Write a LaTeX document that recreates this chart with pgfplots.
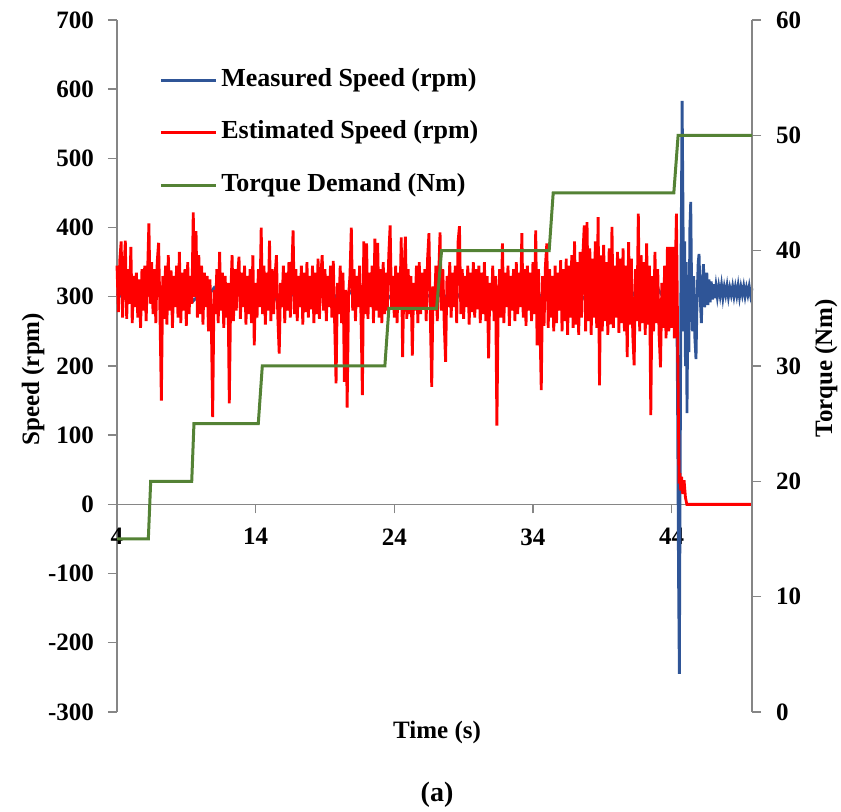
\documentclass[border=0pt]{standalone}
\usepackage{pgfplots}
\pgfplotsset{compat=1.18}
\usepackage{fontspec}
\setmainfont{Liberation Serif}

\definecolor{measblue}{RGB}{47,85,151}
\definecolor{estred}{RGB}{255,0,0}
\definecolor{torqgreen}{RGB}{84,130,53}
\definecolor{axisgray}{RGB}{134,134,134}

\pgfplotsset{
  speedtorque/.style={
    scale only axis, width=317.5pt, height=346pt,
    xmin=4, xmax=49.8,
    axis line style={axisgray, line width=0.7pt},
    tick style={axisgray, line width=0.7pt},
    major tick length=4.5pt,
    tick align=outside,
    tick label style={font=\bfseries\fontsize{12.5}{15}\selectfont, black},
    label style={font=\bfseries\fontsize{12.5}{15}\selectfont},
    /pgf/number format/assume math mode=true,
    clip=false,
  }
}

\begin{document}
\begin{tikzpicture}[font=\bfseries\fontsize{12.5}{15}\selectfont]
\useasboundingbox (-58.5pt,-50pt) rectangle (362pt,356pt);

% speed axis (left)
\begin{axis}[speedtorque,
  axis x line*=middle, axis y line*=left,
  ymin=-300, ymax=700, ytick={-300,-200,...,700},
  xtick={4,14,24,34,44},
  hide obscured x ticks=false,
  xlabel={Time (s)}, ylabel={Speed (rpm)},
  xlabel style={at={(rel axis cs:0.504,-0.0303)}, anchor=center},
  ylabel style={at={(rel axis cs:-0.1323,0.481)}, anchor=center},
  xticklabel style={yshift=-4pt},
  yticklabel style={xshift=-3.5pt},
]
% measured speed
\addplot[measblue, line width=1.4pt] coordinates {
(4.0,305)(4.5,298)(5.0,312)(5.5,295)(6.0,308)(6.5,300)(7.0,315)(7.5,296)(8.0,306)(8.5,299)
(9.0,311)(9.5,294)(10.0,305)(10.5,300)(11.0,313)(11.5,297)(12.0,306)(12.5,301)(13.0,310)(13.5,295)
(14.0,307)(14.5,299)(15.0,312)(15.5,296)(16.0,305)(16.5,300)(17.0,311)(17.5,295)(18.0,306)(18.5,301)
(19.0,313)(19.5,296)(20.0,305)(20.5,299)(21.0,310)(21.5,294)(22.0,307)(22.5,300)(23.0,312)(23.5,297)
(24.0,306)(24.5,300)(25.0,311)(25.5,295)(26.0,305)(26.5,301)(27.0,312)(27.5,296)(28.0,307)(28.5,299)
(29.0,310)(29.5,295)(30.0,306)(30.5,300)(31.0,313)(31.5,297)(32.0,305)(32.5,299)(33.0,311)(33.5,296)
(34.0,306)(34.5,300)(35.0,312)(35.5,295)(36.0,307)(36.5,301)(37.0,310)(37.5,296)(38.0,305)(38.5,299)
(39.0,312)(39.5,295)(40.0,306)(40.5,300)(41.0,311)(41.5,297)(42.0,305)(42.5,300)(43.0,312)(43.5,296)
(44.0,306)(44.3,300)(44.38,285)(44.44,120)(44.50,-100)(44.56,-245)(44.62,50)(44.68,350)(44.76,583)
(44.82,430)(44.88,250)(44.94,380)(45.00,200)(45.06,350)(45.11,132)(45.18,300)(45.25,220)(45.32,400)
(45.38,437)(45.45,300)(45.52,250)(45.60,330)(45.68,240)(45.76,210)(45.84,300)(45.92,350)(45.98,362)
(46.06,300)(46.15,262)(46.22,320)(46.30,347)(46.38,285)(46.46,300)(46.54,335)(46.62,288)(46.70,325)
(46.78,292)(46.86,322)(46.94,296)(47.02,318)(47.10,298)(47.2,316)(47.3,300)(47.4,315)(47.5,302)
(47.6,317)(47.7,299)(47.8,314)(47.9,303)(48.0,316)(48.1,300)(48.2,313)(48.3,303)(48.4,315)(48.5,301)
(48.6,314)(48.7,302)(48.8,316)(48.9,300)(49.0,314)(49.1,303)(49.2,315)(49.3,301)(49.4,313)(49.5,303)
(49.6,315)(49.7,302)(49.8,312)
};
% estimated speed
\addplot[estred, line width=1.4pt] coordinates {
(4.0,345)(4.1,278)(4.2,352)(4.3,380)(4.4,270)(4.5,335)(4.6,381)(4.7,268)(4.8,340)(4.9,290)
(5.0,372)(5.1,262)(5.2,330)(5.3,285)(5.4,335)(5.5,270)(5.6,325)(5.7,255)(5.8,340)(5.9,280)
(6.0,345)(6.1,265)(6.2,330)(6.3,406)(6.4,290)(6.5,350)(6.6,275)(6.7,340)(6.8,262)(6.9,350)
(7.0,378)(7.1,275)(7.2,150)(7.3,330)(7.4,268)(7.5,345)(7.6,260)(7.7,360)(7.8,280)(7.9,338)
(8.0,255)(8.1,330)(8.2,285)(8.3,345)(8.4,270)(8.5,365)(8.6,262)(8.7,335)(8.8,280)(8.9,340)
(9.0,258)(9.1,350)(9.2,275)(9.3,330)(9.4,290)(9.5,422)(9.6,300)(9.7,395)(9.8,270)(9.9,360)
(10.0,275)(10.1,345)(10.2,260)(10.3,335)(10.4,285)(10.5,330)(10.6,250)(10.7,325)(10.8,270)(10.9,126)
(11.0,310)(11.1,275)(11.2,340)(11.3,262)(11.4,365)(11.5,280)(11.6,335)(11.7,255)(11.8,330)(11.9,270)
(12.0,320)(12.1,146)(12.2,300)(12.3,360)(12.4,265)(12.5,340)(12.6,280)(12.7,330)(12.8,358)(12.9,268)
(13.0,335)(13.1,285)(13.2,345)(13.3,260)(13.4,330)(13.5,275)(13.6,340)(13.7,262)(13.8,360)(13.9,230)
(14.0,320)(14.1,270)(14.2,340)(14.3,285)(14.4,400)(14.5,275)(14.6,345)(14.7,260)(14.8,335)(14.9,280)
(15.0,381)(15.1,265)(15.2,340)(15.3,275)(15.4,330)(15.5,360)(15.6,270)(15.7,218)(15.8,320)(15.9,285)
(16.0,345)(16.1,262)(16.2,335)(16.3,280)(16.4,350)(16.5,270)(16.6,330)(16.7,396)(16.8,275)(16.9,340)
(17.0,265)(17.1,330)(17.2,285)(17.3,345)(17.4,260)(17.5,335)(17.6,278)(17.7,350)(17.8,270)(17.9,330)
(18.0,282)(18.1,345)(18.2,262)(18.3,335)(18.4,275)(18.5,355)(18.6,268)(18.7,330)(18.8,360)(18.9,280)
(19.0,340)(19.1,265)(19.2,330)(19.3,285)(19.4,345)(19.5,270)(19.6,352)(19.7,260)(19.8,175)(19.9,320)
(20.0,275)(20.1,345)(20.2,262)(20.3,335)(20.4,177)(20.5,310)(20.6,140)(20.7,300)(20.8,330)(20.9,400)
(21.0,280)(21.1,340)(21.2,265)(21.3,330)(21.4,285)(21.5,345)(21.6,270)(21.7,158)(21.8,380)(21.9,275)
(22.0,377)(22.1,268)(22.2,335)(22.3,285)(22.4,345)(22.5,262)(22.6,384)(22.7,280)(22.8,378)(22.9,270)
(23.0,340)(23.1,262)(23.2,350)(23.3,275)(23.4,335)(23.5,280)(23.6,360)(23.7,403)(23.8,285)(23.9,330)
(24.0,270)(24.1,345)(24.2,262)(24.3,335)(24.4,285)(24.5,386)(24.6,213)(24.7,330)(24.8,387)(24.9,268)
(25.0,340)(25.1,275)(25.2,330)(25.3,215)(25.4,320)(25.5,280)(25.6,345)(25.7,262)(25.8,350)(25.9,275)
(26.0,335)(26.1,285)(26.2,340)(26.3,265)(26.4,355)(26.5,392)(26.6,270)(26.7,170)(26.8,315)(26.9,280)
(27.0,345)(27.1,265)(27.2,330)(27.3,393)(27.4,280)(27.5,340)(27.6,262)(27.7,206)(27.8,330)(27.9,285)
(28.0,350)(28.1,270)(28.2,335)(28.3,285)(28.4,345)(28.5,262)(28.6,380)(28.7,402)(28.8,275)(28.9,340)
(29.0,268)(29.1,330)(29.2,285)(29.3,345)(29.4,260)(29.5,335)(29.6,278)(29.7,350)(29.8,270)(29.9,340)
(30.0,282)(30.1,345)(30.2,262)(30.3,335)(30.4,275)(30.5,350)(30.6,265)(30.7,330)(30.8,211)(30.9,320)
(31.0,280)(31.1,345)(31.2,265)(31.3,330)(31.4,114)(31.5,300)(31.6,340)(31.7,270)(31.8,377)(31.9,262)
(32.0,335)(32.1,285)(32.2,345)(32.3,258)(32.4,330)(32.5,280)(32.6,340)(32.7,265)(32.8,350)(32.9,275)
(33.0,335)(33.1,285)(33.2,392)(33.3,270)(33.4,340)(33.5,258)(33.6,345)(33.7,280)(33.8,335)(33.9,265)
(34.0,350)(34.1,275)(34.2,396)(34.3,230)(34.4,340)(34.5,265)(34.6,165)(34.7,330)(34.8,258)(34.9,345)
(35.0,377)(35.1,255)(35.2,340)(35.3,270)(35.4,330)(35.5,250)(35.6,345)(35.7,262)(35.8,335)(35.9,280)
(36.0,353)(36.1,250)(36.2,340)(36.3,265)(36.4,355)(36.5,245)(36.6,345)(36.7,270)(36.8,360)(36.9,255)
(37.0,380)(37.1,260)(37.2,350)(37.3,245)(37.4,365)(37.5,270)(37.6,360)(37.7,403)(37.8,250)(37.9,408)
(38.0,265)(38.1,370)(38.2,245)(38.3,355)(38.4,270)(38.5,380)(38.6,255)(38.7,415)(38.8,172)(38.9,360)
(39.0,250)(39.1,375)(39.2,265)(39.3,350)(39.4,245)(39.5,370)(39.6,260)(39.7,401)(39.8,255)(39.9,345)
(40.0,270)(40.1,365)(40.2,248)(40.3,355)(40.4,262)(40.5,370)(40.6,250)(40.7,345)(40.8,213)(40.9,379)
(41.0,260)(41.1,355)(41.2,245)(41.3,201)(41.4,340)(41.5,265)(41.6,420)(41.7,250)(41.8,360)(41.9,262)
(42.0,350)(42.1,245)(42.2,377)(42.3,260)(42.4,345)(42.5,129)(42.6,330)(42.7,250)(42.8,365)(42.9,262)
(43.0,340)(43.1,245)(43.2,198)(43.3,320)(43.4,255)(43.5,345)(43.6,240)(43.7,372)(43.8,250)(43.9,372)
(44.0,255)(44.1,372)(44.2,240)(44.3,372)(44.35,420)(44.54,30)(44.6,45)(44.66,20)(44.72,40)(44.8,15)
(44.9,35)(45.0,10)(45.1,0)(49.8,0)
};
\end{axis}

% torque axis (right)
\begin{axis}[speedtorque,
  axis x line=none, axis y line*=right,
  ymin=0, ymax=60, ytick={0,10,...,60},
  ylabel={Torque (Nm)},
  ylabel style={at={(rel axis cs:1.1165,0.497)}, anchor=center},
  yticklabel style={xshift=4pt},
  legend cell align=left,
  legend image code/.code={\draw[#1] (0pt,0pt) -- (27.5pt,0pt);},
  legend style={draw=none, fill=none, inner sep=0pt,
    at={(rel axis cs:0.066,0.931)}, anchor=north west,
    row sep=14.25pt,
    nodes={inner sep=0pt, text height=9pt, text depth=3pt,
      font=\bfseries\fontsize{13}{15}\selectfont},
    /tikz/every odd column/.append style={column sep=2pt}},
]
\addlegendimage{measblue, line width=1.5pt}
\addlegendentry{Measured Speed (rpm)}
\addlegendimage{estred, line width=1.5pt}
\addlegendentry{Estimated Speed (rpm)}
% torque demand steps
\addplot[torqgreen, line width=1.5pt] coordinates {
(4,15)(6.26,15)(6.43,20)(9.39,20)(9.55,25)(14.19,25)(14.48,30)(23.32,30)(23.61,35)
(27.05,35)(27.41,40)(35.17,40)(35.46,45)(44.16,45)(44.47,50)(49.8,50)
};
\addlegendentry{Torque Demand (Nm)}
\end{axis}

\node[font=\bfseries\fontsize{14}{16}\selectfont] at (160pt,-41.5pt) {(a)};
\end{tikzpicture}
\end{document}
